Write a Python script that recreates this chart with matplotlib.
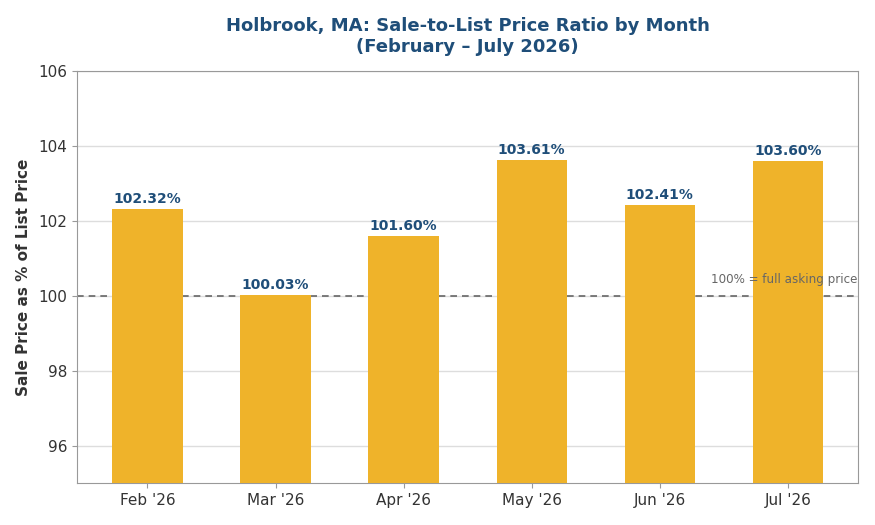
import matplotlib
matplotlib.use("Agg")
import matplotlib.pyplot as plt

months = ["Feb '26", "Mar '26", "Apr '26", "May '26", "Jun '26", "Jul '26"]
ratios = [102.32, 100.03, 101.60, 103.61, 102.41, 103.60]

bar_color = "#EFB32A"
navy = "#1F4E79"

fig, ax = plt.subplots(figsize=(8.75, 5.25), dpi=100)
fig.subplots_adjust(left=0.088, right=0.981, top=0.865, bottom=0.08)

x = list(range(len(months)))
ax.bar(x, ratios, width=0.55, color=bar_color, zorder=3)
ax.axhline(100, color="#666666", linestyle=(0, (4, 3)), linewidth=1.2, zorder=2)

for xi, v in zip(x, ratios):
    ax.text(xi, v + 0.08, f"{v:.2f}%", ha="center", va="bottom",
            fontsize=10, fontweight="bold", color=navy, zorder=5)

ax.text(5.54, 100.25, "100% = full asking price", ha="right", va="bottom",
        fontsize=8.6, color="#666666", zorder=5)

ax.set_ylim(95, 106)
ax.set_xlim(-0.55, 5.55)
ax.set_yticks([96, 98, 100, 102, 104, 106])
ax.set_xticks(x)
ax.set_xticklabels(months)
ax.tick_params(axis="both", labelsize=11, colors="#333333")
ax.tick_params(axis="both", color="#999999")
ax.grid(axis="y", color="#dddddd", linewidth=1, zorder=0)
ax.set_axisbelow(True)
for s in ax.spines.values():
    s.set_color("#999999")

ax.set_ylabel("Sale Price as % of List Price", fontsize=11, fontweight="bold", color="#333333", labelpad=5)
ax.set_title("Holbrook, MA: Sale-to-List Price Ratio by Month\n(February \u2013 July 2026)",
             fontsize=13, fontweight="bold", color=navy, pad=13.5)

fig.savefig("out.png", dpi=100)
